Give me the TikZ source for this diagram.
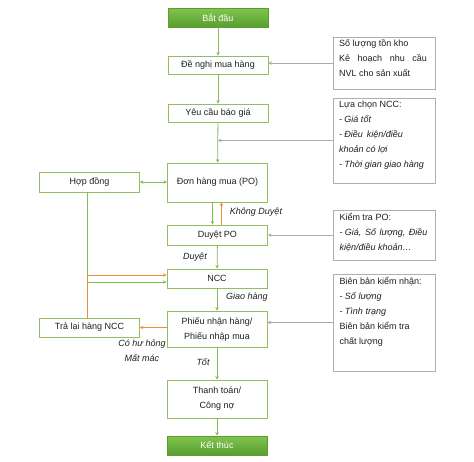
\documentclass[tikz,border=0pt]{standalone}
\usepackage{fontspec}
\setmainfont{Liberation Sans}
\usetikzlibrary{arrows.meta}
\definecolor{boxgreen}{RGB}{146,190,96}
\definecolor{flowgreen}{RGB}{135,185,85}
\definecolor{termtop}{RGB}{130,196,78}
\definecolor{termbot}{RGB}{88,158,48}
\definecolor{backorange}{RGB}{238,140,60}
\definecolor{notegray}{RGB}{175,175,175}
\definecolor{infogray}{RGB}{170,170,170}
\definecolor{textgray}{RGB}{30,30,30}
\newcommand{\fs}{\fontsize{9}{15}\selectfont}
\newcommand{\notetext}[2]{\parbox[c][#1][t]{90pt}{#2}}
\tikzset{
  box/.style={draw=boxgreen, line width=0.8pt, minimum width=100pt, inner sep=1pt, text=textgray, font=\fs, align=center},
  term/.style={box, draw=termbot, top color=termtop, bottom color=termbot, text=white},
  note/.style={draw=notegray, line width=0.8pt, inner xsep=6pt, inner ysep=3pt, text=textgray, font=\fs, align=left},
  flow/.style={draw=flowgreen, line width=0.8pt, -{Stealth[length=3.5pt,width=3.5pt]}},
  flowboth/.style={draw=flowgreen, line width=0.8pt, {Stealth[length=3.5pt,width=3.5pt]}-{Stealth[length=3.5pt,width=3.5pt]}},
  back/.style={draw=backorange, line width=0.8pt, -{Stealth[length=3.5pt,width=3.5pt]}},
  info/.style={draw=infogray, line width=0.8pt, -{Stealth[length=3.5pt,width=3.5pt]}},
  lbl/.style={font=\fs\itshape, text=textgray, inner sep=0pt}
}
\begin{document}
\begin{tikzpicture}[x=1pt,y=-1pt]
\useasboundingbox (0,0) rectangle (474,461);
% main column
\node[term, minimum height=19pt] (start) at (218,17.5) {Bắt đầu};
\node[box, minimum height=18pt] (dn) at (218,65) {Đề nghị mua hàng};
\node[box, minimum height=18pt] (yc) at (218,113) {Yêu cầu báo giá};
\node[box, minimum height=39pt] (po) at (217.5,182.5) {Đơn hàng mua (PO)};
\node[box, minimum height=20pt] (duyet) at (217.5,235) {Duyệt PO};
\node[box, minimum height=19pt] (ncc) at (217,278.5) {NCC};
\node[box, minimum height=36pt] (phieu) at (217,329) {Phiếu nhận hàng/\\Phiếu nhập mua};
\node[box, minimum height=38pt] (tt) at (217,399) {Thanh toán/\\Công nợ};
\node[term, minimum height=19pt] (end) at (217,445.5) {Kết thúc};
% left column
\node[box, minimum height=20pt] (hd) at (89.5,182) {Hợp đồng};
\node[box, minimum height=19pt] (tl) at (89.5,327.5) {Trả lại hàng NCC};
% right notes
\node[note] (r1) at (384,63) {\notetext{46pt}{Số lượng tồn kho\\
\hbox to 88pt{Kẻ\hfill hoạch\hfill nhu\hfill cầu}\\
NVL cho sản xuất}};
\node[note] (r2) at (384,140.5) {\notetext{79pt}{Lựa chọn NCC:\\
\textit{- Giá tốt}\\
\hbox to 64pt{\itshape - Điều\hfill kiện/điều}\\
\textit{khoản có lợi}\\
\textit{- Thời gian giao hàng}}};
\node[note] (r3) at (384.5,235) {\notetext{44pt}{Kiểm tra PO:\\
\hbox to 88pt{\itshape - Giá,\hfill Số\hfill lượng,\hfill Điều}\\
\textit{kiện/điều khoản…}}};
\node[note] (r4) at (384.5,322.5) {\notetext{91pt}{Biên bản kiểm nhận:\\
\textit{- Số lượng}\\
\textit{- Tình trạng}\\
Biên bản kiểm tra\\
chất lượng}};
% main flow
\draw[flow] (start) -- (dn);
\draw[flow] (dn) -- (yc);
\draw[flow] (yc) -- (po);
\draw[flow] ([xshift=-5pt]po.south) -- ([xshift=-5pt]duyet.north);
\draw[back] ([xshift=4pt]duyet.north) -- ([xshift=4pt]po.south);
\draw[flow] (duyet) -- (ncc);
\draw[flow] (ncc) -- (phieu);
\draw[flow] (phieu) -- (tt);
\draw[flow] (tt) -- (end);
% side flows
\draw[flowboth] (hd.east) -- (po.west |- hd.east);
\draw[flow] ([xshift=-2.5pt]hd.south) |- ([yshift=-3.5pt]ncc.west);
\draw[back] ([xshift=-2.5pt]tl.north) |- ([yshift=3.5pt]ncc.west);
\draw[back] (phieu.west |- tl.east) -- (tl.east);
% info arrows
\draw[info] (r1.west) -- (r1.west -| dn.east);
\draw[info] (r2.west) -- (r2.west -| yc.south);
\draw[info] (r3.west) -- (r3.west -| duyet.east);
\draw[info] (r4.west) -- (r4.west -| phieu.east);
% labels
\node[lbl] (l1) at (256,212) {Không Duyệt};
\node[lbl] (l2) at (195,257) {Duyệt};
\node[lbl] (l3) at (247,297) {Giao hàng};
\node[lbl] (l4) at (142,344) {Có hư hỏng};
\node[lbl] (l5) at (142,358) {Mất mác};
\node[lbl] (l6) at (203,362) {Tốt};
\end{tikzpicture}
\end{document}
